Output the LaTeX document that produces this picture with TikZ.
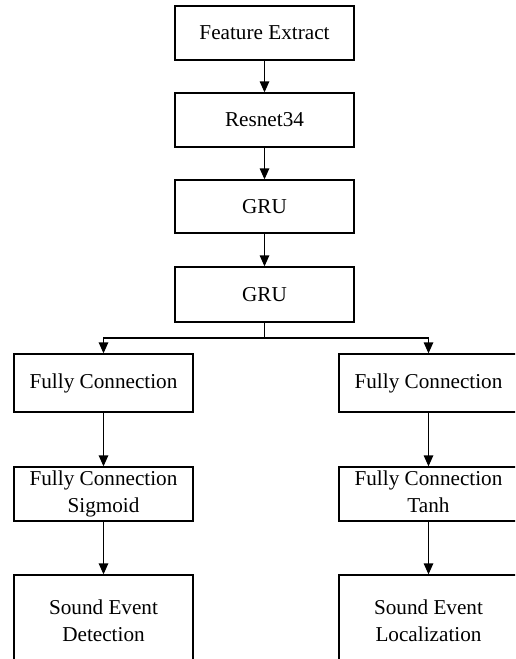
\documentclass[tikz,border=0pt]{standalone}
\usepackage{fontspec}
\setmainfont{Liberation Serif}
\usetikzlibrary{arrows.meta}
\tikzset{
  blk/.style={draw, line width=1.3pt, minimum width=179pt, inner sep=0pt, align=center,
    font=\fontsize{21.2}{27}\selectfont},
  arr/.style={line width=1.3pt, -{Triangle[length=11pt,width=9.5pt]}}
}
\begin{document}
\begin{tikzpicture}[x=1pt,y=-1pt]
  \useasboundingbox (0,0) rectangle (515,659);
  \clip (0,0) rectangle (515,659);
  % trunk
  \node[blk, minimum height=54pt] (fe) at (264.5,33) {Feature Extract};
  \node[blk, minimum height=54pt] (res) at (264.5,120) {Resnet34};
  \node[blk, minimum height=53pt] (gru1) at (264.5,206.5) {GRU};
  \node[blk, minimum height=55pt] (gru2) at (264.5,294.5) {GRU};
  \coordinate (split) at (264.5,338);
  % two heads
  \node[blk, minimum height=58pt] (fcl) at (103.5,383) {Fully Connection};
  \node[blk, minimum height=54pt] (sigl) at (103.5,494) {Fully Connection\\Sigmoid};
  \node[blk, minimum height=92pt] (sed) at (103.5,621) {Sound Event\\Detection};
  \node[blk, minimum height=58pt] (fcr) at (428.5,383) {Fully Connection};
  \node[blk, minimum height=54pt] (tanhr) at (428.5,494) {Fully Connection\\Tanh\vphantom{g}};
  \node[blk, minimum height=92pt] (sel) at (428.5,621) {Sound Event\\Localization};
  \foreach \a/\b in {fe/res,res/gru1,gru1/gru2,fcl/sigl,sigl/sed,fcr/tanhr,tanhr/sel}
    \draw[arr] (\a) -- (\b);
  \draw[line width=1.3pt] (gru2) -- (split);
  \draw[arr] (split) -| (fcl);
  \draw[arr] (split) -| (fcr);
\end{tikzpicture}
\end{document}
